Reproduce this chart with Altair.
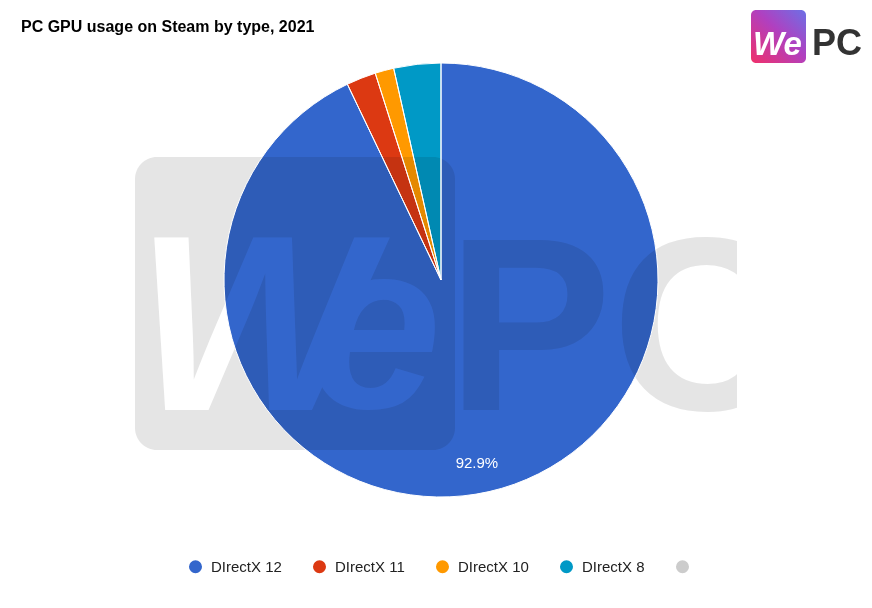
import altair as alt
import pandas as pd

# ---- data ----
categories = ["DIrectX 12", "DIrectX 11", "DIrectX 10", "DIrectX 8"]
shares = [92.9, 2.2, 1.4, 3.5]
slice_labels = ["92.9%", "", "", ""]
legend_domain = categories + [" "]
palette = ["#3366cc", "#dc3912", "#ff9900", "#0099c6", "#cccccc"]
title_text = "PC GPU usage on Steam by type, 2021"

df = pd.DataFrame({
    "cat": categories,
    "value": shares,
    "label": slice_labels,
    "order": list(range(len(categories))),
})
one = pd.DataFrame({"a": [0]})

FONT = "Liberation Sans"
CX, CY, R = 433, 272, 217
WM = "#e5e5e5"

color = alt.Color(
    "cat:N",
    scale=alt.Scale(domain=legend_domain, range=palette),
    sort=legend_domain,
    legend=alt.Legend(
        title=None, orient="none", direction="horizontal",
        legendX=180, legendY=551,
        symbolType="circle", symbolSize=170, symbolStrokeWidth=0,
        symbolOpacity=1, labelFont=FONT, labelFontSize=15,
        labelColor="#222222", labelOffset=8, columnPadding=30,
    ),
)

# ---- watermark (drawn behind the pie) ----
wm_rect = alt.Chart(one).mark_rect(cornerRadius=22, color=WM).encode(
    x=alt.value(127), x2=alt.value(447), y=alt.value(149), y2=alt.value(442)
)
wm_W = alt.Chart(one).mark_text(
    font=FONT, fontSize=250, fontWeight="bold", fontStyle="italic",
    align="left", baseline="alphabetic", color="white",
).encode(x=alt.value(128), y=alt.value(402), text=alt.value("W"))
wm_e = alt.Chart(one).mark_text(
    font=FONT, fontSize=240, fontWeight="bold", fontStyle="italic",
    align="left", baseline="alphabetic", color="white",
).encode(x=alt.value(300), y=alt.value(400), text=alt.value("e"))
wm_PC = alt.Chart(one).mark_text(
    font=FONT, fontSize=247, fontWeight="bold",
    align="left", baseline="alphabetic", color=WM,
).encode(x=alt.value(439), y=alt.value(402), text=alt.value("PC"))
wm_clip = alt.Chart(one).mark_rect(color="white").encode(
    x=alt.value(729), x2=alt.value(800), y=alt.value(200), y2=alt.value(420)
)

# ---- pie (multiplied over the watermark) ----
pie = alt.Chart(df).mark_arc(outerRadius=R, strokeWidth=0, blend="multiply").encode(
    theta=alt.Theta("value:Q", stack=True),
    color=color,
    order=alt.Order("order:Q"),
    x=alt.value(CX), y=alt.value(CY),
)
pie_edges = alt.Chart(df).mark_arc(
    outerRadius=R, fill="white", fillOpacity=0, stroke="white", strokeWidth=1
).encode(
    theta=alt.Theta("value:Q", stack=True),
    order=alt.Order("order:Q"),
    x=alt.value(CX), y=alt.value(CY),
)

labels = alt.Chart(df).mark_text(radius=185, dx=-5, dy=3, font=FONT, fontSize=15, color="white").encode(
    theta=alt.Theta("value:Q", stack=True),
    text="label:N",
    order=alt.Order("order:Q"),
    x=alt.value(CX), y=alt.value(CY),
)

# ---- logo ----
logo_box = alt.Chart(one).mark_rect(
    cornerRadius=5,
    color=alt.Gradient(
        gradient="linear",
        stops=[alt.GradientStop(color="#f0306a", offset=0),
               alt.GradientStop(color="#b040c0", offset=0.55),
               alt.GradientStop(color="#6c70e6", offset=1)],
        x1=0, y1=1, x2=1, y2=0,
    ),
).encode(x=alt.value(743), x2=alt.value(798), y=alt.value(2), y2=alt.value(55))
logo_we = alt.Chart(one).mark_text(
    font=FONT, fontSize=33, fontWeight="bold", fontStyle="italic",
    align="left", baseline="alphabetic", color="white",
).encode(x=alt.value(745), y=alt.value(47), text=alt.value("We"))
logo_pc = alt.Chart(one).mark_text(
    font=FONT, fontSize=36, fontWeight="bold",
    align="left", baseline="alphabetic", color="#333333",
).encode(x=alt.value(804), y=alt.value(47), text=alt.value("PC"))

title = alt.Chart(one).mark_text(
    font=FONT, fontSize=16, fontWeight="bold", align="left",
    baseline="middle", color="#000000",
).encode(x=alt.value(13), y=alt.value(19), text=alt.value(title_text))

chart = alt.layer(
    wm_rect, wm_W, wm_e, wm_PC, wm_clip,
    pie, pie_edges, labels,
    logo_box, logo_we, logo_pc, title,
).properties(
    width=856, height=592,
    autosize=alt.AutoSizeParams(type="none"),
    padding=0, background="white",
).configure_view(stroke=None)

chart.save("out.html", embed_options={"renderer": "svg", "actions": False})
